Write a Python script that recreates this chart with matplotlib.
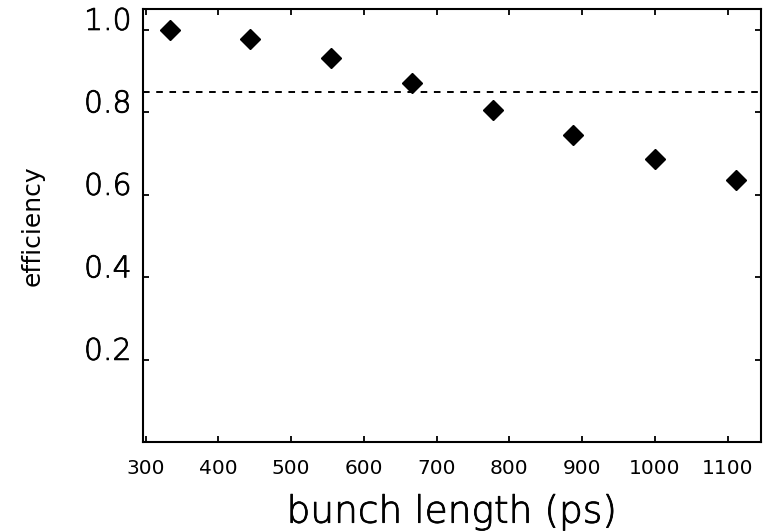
import numpy as np
import matplotlib
matplotlib.use('Agg')
import matplotlib.pyplot as plt
import matplotlib.patheffects as pe

# bunch length vs efficiency
bunch_length = [333, 444, 555, 666, 777, 888, 1000, 1111]
efficiency = [1.000, 0.979, 0.931, 0.871, 0.805, 0.744, 0.688, 0.636]
threshold = 0.85

x_ticks = [300, 400, 500, 600, 700, 800, 900, 1000, 1100]
y_ticks = [0.2, 0.4, 0.6, 0.8, 1.0]

plt.rcParams['font.family'] = 'DejaVu Sans'

# thin font, slightly thickened
thicken = [pe.withStroke(linewidth=0.6, foreground='black')]

fig = plt.figure(figsize=(7.63, 5.31), dpi=100)
ax = fig.add_axes([0.187, 0.167, 0.8104, 0.8155])

ax.plot(bunch_length, efficiency, linestyle='none', marker='D',
        markersize=10.5, color='black')
ax.axhline(threshold, color='black', lw=1.4, linestyle=(0, (3.4, 3.4)))

ax.set_xlim(296, 1146)
ax.set_ylim(0, 1.05)
ax.set_xticks(x_ticks)
ax.set_yticks(y_ticks)
ax.set_xticklabels([str(v) for v in x_ticks], fontsize=14.5)
ax.set_yticklabels(['%.1f' % v for v in y_ticks], fontsize=21.5,
                   fontweight='light')
for lab in ax.get_yticklabels():
    lab.set_verticalalignment('baseline')
    lab.set_path_effects(thicken)

ax.tick_params(direction='in', length=4, width=1.3, top=True, right=True)
ax.tick_params(axis='x', pad=12)
ax.tick_params(axis='y', pad=8)
for sp in ax.spines.values():
    sp.set_linewidth(1.5)

xl = ax.set_xlabel('bunch length (ps)', fontsize=27, fontweight='light',
                   labelpad=12)
xl.set_path_effects(thicken)
ax.set_ylabel('efficiency', fontsize=18, labelpad=28)

fig.savefig('out.png', dpi=100)
